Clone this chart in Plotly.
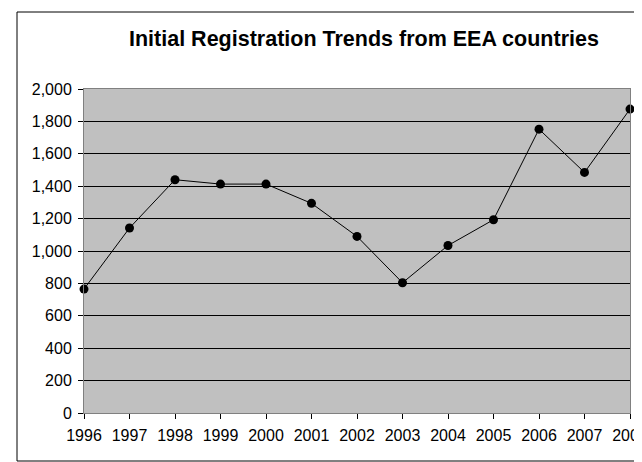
import plotly.graph_objects as go

years = [1996, 1997, 1998, 1999, 2000, 2001, 2002, 2003, 2004, 2005, 2006, 2007, 2008]
registrations = [765, 1142, 1440, 1413, 1413, 1294, 1090, 804, 1034, 1193, 1752, 1485, 1876]
title_text = "Initial Registration Trends from EEA countries"

fig = go.Figure()
fig.add_trace(go.Scatter(
    x=years, y=registrations, mode="lines+markers",
    line=dict(color="black", width=1),
    marker=dict(color="black", size=9),
    cliponaxis=False, showlegend=False,
))

font = "Arial, Liberation Sans, sans-serif"
# page has an 8px body margin, so the figure is shrunk by 8px
fig.update_layout(
    width=634, height=454,
    margin=dict(l=76, r=12, t=81, b=49, autoexpand=False),
    paper_bgcolor="white", plot_bgcolor="#C0C0C0",
    font=dict(family=font, size=16, color="black"),
    xaxis=dict(range=[1996, 2008], tickmode="array", tickvals=years,
               ticktext=[str(y) for y in years], ticks="outside", ticklen=5,
               tickcolor="black", showgrid=False, zeroline=False,
               showline=True, linecolor="#808080", mirror=True,
               tickfont=dict(size=16), ticklabeloverflow="allow",
               ticklabelstandoff=3, automargin=False),
    yaxis=dict(range=[0, 2000], dtick=200, tickformat=",d", ticks="outside",
               ticklen=5, tickcolor="black", showgrid=True, gridcolor="black",
               gridwidth=1, zeroline=False, showline=True, linecolor="#808080",
               mirror=True, tickfont=dict(size=16), ticklabelstandoff=3,
               automargin=False),
    annotations=[dict(text="<b>" + title_text + "</b>", xref="paper", yref="paper",
                      x=(364 - 84) / 546, y=(413 - 39) / 324, xanchor="center",
                      yanchor="middle", showarrow=False,
                      font=dict(size=21.5, family=font, color="black"))],
    shapes=[dict(type="rect", xref="paper", yref="paper",
                 x0=(17 - 84) / 546, x1=(700 - 84) / 546,
                 y0=(413 - 461) / 324, y1=(413 - 12) / 324,
                 line=dict(color="black", width=1), layer="below")],
)
fig.write_html("out.html")
